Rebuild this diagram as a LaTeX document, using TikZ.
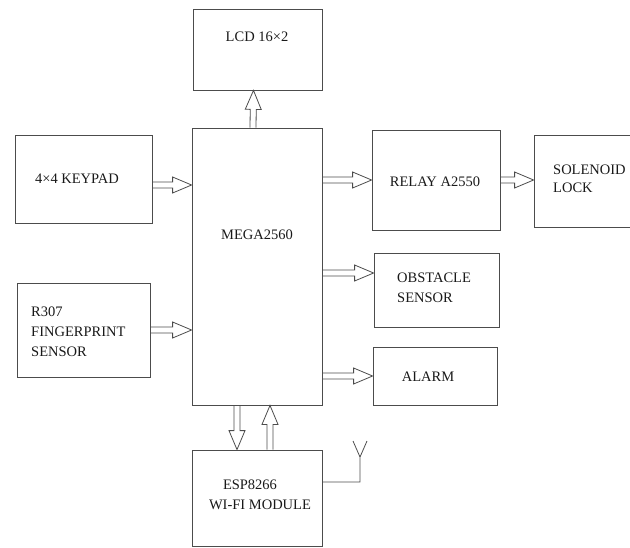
\documentclass[tikz,border=0pt]{standalone}
\usepackage{fontspec}
\setmainfont{Liberation Serif}
\newfontfamily\blockfont{Liberation Serif}
\usetikzlibrary{calc}

% hollow block arrow from #1 to #2
\newcommand\hollowarrow[2]{%
  \draw[hollow] let \p1=(#1), \p2=(#2),
      \n1={atan2(\y2-\y1,\x2-\x1)}, \n2={veclen(\x2-\x1,\y2-\y1)-19}, \n3={veclen(\x2-\x1,\y2-\y1)} in
    [shift={(\p1)}, rotate=\n1] (0pt,3pt) -- (\n2,3pt) -- (\n2,8pt) -- (\n3,0pt)
    -- (\n2,-8pt) -- (\n2,-3pt) -- (0pt,-3pt);}

\begin{document}
\begin{tikzpicture}[x=1pt,y=-1pt,
  blk/.style={draw=black!70, line width=0.8pt, minimum width=#1},
  lbl/.style={font=\blockfont\fontsize{14.5}{20}\selectfont, text=black!90, inner sep=0pt},
  hollow/.style={draw=black!70, line width=0.8pt, line join=miter},
  wire/.style={draw=black!70, line width=0.8pt}]
  \useasboundingbox (0,0) rectangle (630,547);
  % the boxes
  \node[blk=129pt, minimum height=81pt] (lcd) at (257.5,49.5) {};
  \node[blk=130pt, minimum height=277pt] (mega) at (257,266.5) {};
  \node[blk=137pt, minimum height=88pt] (keypad) at (83.5,179) {};
  \node[blk=133pt, minimum height=94pt] (finger) at (83.5,330) {};
  \node[blk=130pt, minimum height=96pt] (esp) at (257,498) {};
  \node[blk=128pt, minimum height=100pt] (relay) at (436,180) {};
  \node[blk=98pt, minimum height=92pt] (lock) at (583,181) {};
  \node[blk=125pt, minimum height=74pt] (obstacle) at (436.5,290) {};
  \node[blk=124pt, minimum height=58pt] (alarm) at (435,376) {};
  % the texts
  \node[lbl] (lcdtext) at (257,37) {LCD 16×2};
  \node[lbl] (megatext) at (257,235) {MEGA2560};
  \node[lbl] (keypadtext) at (77,179) {4×4 KEYPAD};
  \node[lbl, anchor=west, align=left] (fingertext) at (31,332) {R307\\FINGERPRINT\\SENSOR};
  \node[lbl] (esptext) at (250,485) {ESP8266};
  \node[lbl] (wifitext) at (260,505) {WI-FI MODULE};
  \node[lbl] (relaytext) at (435,182) {RELAY A2550};
  \node[lbl, anchor=west, align=left, font=\blockfont\fontsize{14.5}{18}\selectfont] (locktext) at (553,179) {SOLENOID\\LOCK};
  \node[lbl, anchor=west, align=left] (obstacletext) at (397,288) {OBSTACLE\\SENSOR};
  \node[lbl] (alarmtext) at (428,377) {ALARM};
  % the connections
  \hollowarrow{[yshift=-6pt]keypad.east}{[yshift=-6pt]keypad.east -| mega.west}
  \hollowarrow{finger.east}{finger.east -| mega.west}
  \hollowarrow{[xshift=-4pt]mega.north}{[xshift=-4pt]lcd.south}
  \hollowarrow{relay.west -| mega.east}{relay.west}
  \hollowarrow{relay.east}{relay.east -| lock.west}
  \hollowarrow{[yshift=17pt]obstacle.west -| mega.east}{[yshift=17pt]obstacle.west}
  \hollowarrow{alarm.west -| mega.east}{alarm.west}
  \hollowarrow{[xshift=-20pt]mega.south}{[xshift=-20pt]esp.north}
  \hollowarrow{[xshift=13pt]esp.north}{[xshift=13pt]mega.south}
  % the antenna
  \coordinate (mast) at (360,457);
  \draw[wire] ([yshift=16pt]esp.east) -| (mast) -- ++(-7,-16) (mast) -- ++(7,-16);
\end{tikzpicture}
\end{document}
